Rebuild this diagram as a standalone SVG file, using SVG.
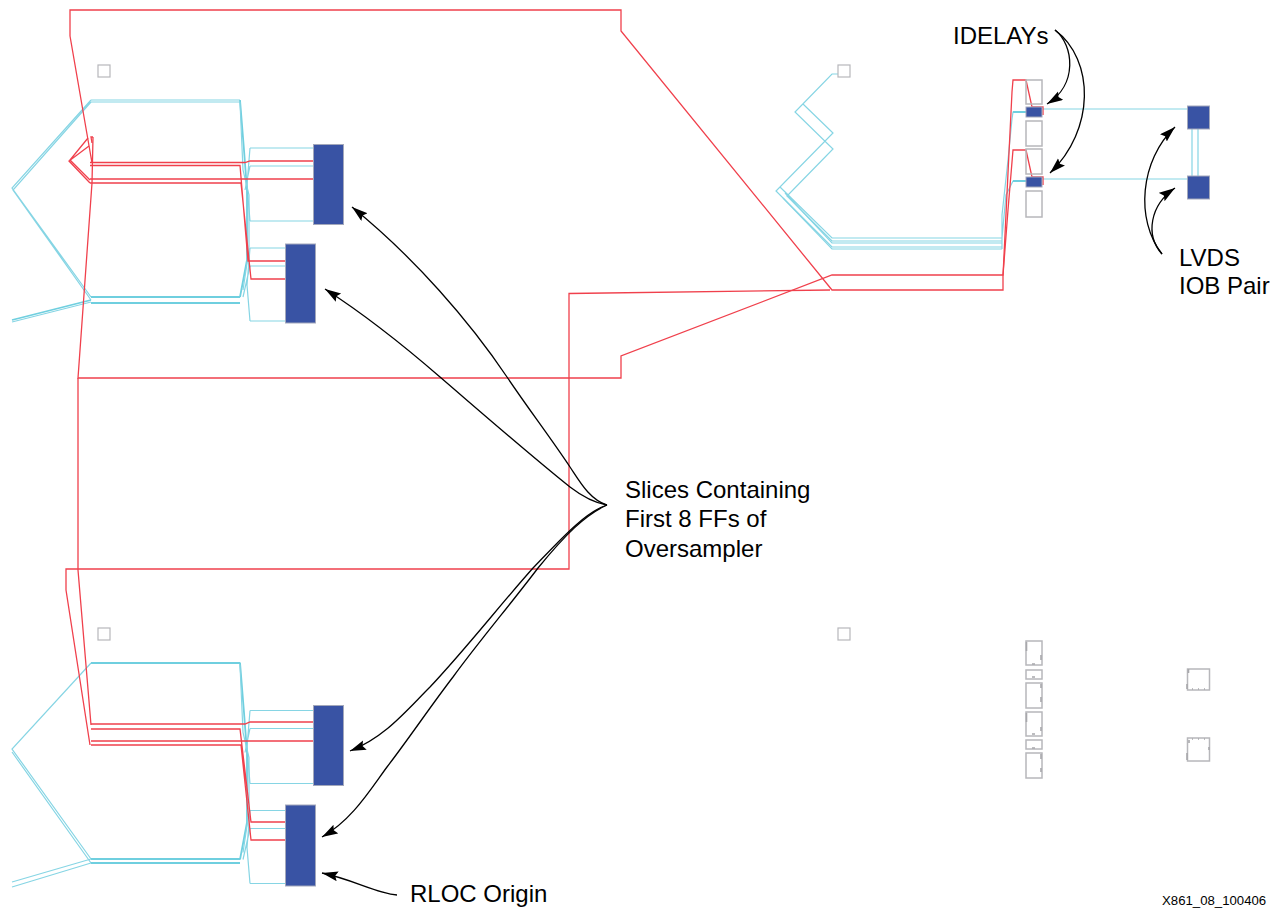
<svg xmlns="http://www.w3.org/2000/svg" width="1282" height="909" viewBox="0 0 1282 909">
<style>
.c{fill:none;stroke:#86d5e4;stroke-width:1.2}
.ct{fill:none;stroke:#6fcfdf;stroke-width:1.8}
.r{fill:none;stroke:#f0404c;stroke-width:1.3}
.a{fill:none;stroke:#000;stroke-width:1.3}
.b{fill:#3953a4;stroke:#a3a8bb;stroke-width:1}
.g{fill:#fff;stroke:#b7b7bb;stroke-width:1.2}
.gt{fill:none;stroke:#b7b7bb;stroke-width:1.5}
.k{fill:none;stroke:#a8a8ac;stroke-width:1.6}
.t{font-family:"Liberation Sans",Arial,sans-serif;font-size:24px;fill:#000}
</style>
<defs>
<marker id="ah" markerUnits="userSpaceOnUse" markerWidth="18" markerHeight="12" refX="16" refY="5" orient="auto"><path d="M0 0L16 5L0 10L2.500 5Z" fill="#000"/></marker>
<g id="cyanWires">
<path class="c" d="M250 148H313M250 166H313M250 221H313M250 148L247 185L250 221M250 166L245 190"/>
<path class="c" d="M250 248H285M250 266H285M250 321H285M250 248L247 285L250 321M250 266L243 297"/>
<path class="ct" d="M240 100L244 150L247 190L247 260L240 297"/>
<path class="c" d="M240 102L243 170L249 195L249 250L243 290"/>
</g>
</defs>
<g id="connectors">
<path class="c" d="M91 100L12 188L91 297M91 102L13 190L91 300"/>
<path class="c" d="M91 100H240M91 102H240"/>
<path class="ct" d="M91 297H240M91 303H240"/>
<path class="ct" d="M91 300L12 320"/>
<path class="c" d="M91 302L12 322"/>
<use href="#cyanWires"/>
<path class="ct" d="M91 663H240"/>
<path class="c" d="M91 663L12 749L91 859M12 752L91 863"/>
<path class="ct" d="M91 859H240M91 863H240"/>
<path class="c" d="M91 859L12 882M91 863L12 887"/>
<g transform="translate(0 562.500)"><use href="#cyanWires"/></g>
<path class="c" d="M838 74H832L795 112L833 149L787 196L832 241H1002M803 104L833 133L776 191L832 247H1002"/>
<path class="c" d="M780 187L832 238H1002M783 198L832 249H1002M785 193L832 243H1002"/>
<path class="c" d="M1002 249V215L1008 160L1012 119L1013 112H1026M1002 238L1006 195L1013 181H1026"/>
<path class="ct" d="M1013 112H1026M1013 181H1026"/>
<path class="c" d="M1043 109H1187M1043 179H1187M1192 129V176M1198 129V176"/>
<path class="r" d="M70 36V10H621V31L832 290H1003V276L1008 173L1012 92L1013 80H1026L1032 107H1043V115"/>
<path class="r" d="M70 36L92 163M93 137L92 183L78 378H621V356L832 275H1003L1008 210L1013 150H1026L1032 177H1043V185"/>
<path class="r" d="M78 378V570L91 725M66 590V569H569V293.500L830 290M66 590L90 745"/>
<path class="r" d="M88 138L70 160L90 180M93 137H91L92 143M89 146L69 161L90 183"/>
<path class="r" d="M90 162.500H245L250 161H313M90 165.500H240L248 261H285M90 179H245L250 179H313M90 183H241L251 279H285"/>
<path class="r" d="M91 724H245L250 722H313M91 729H240L251 822H285M91 741H245L250 741H313M91 745H241L251 840H285"/>
</g>
<g id="square-1"><rect class="g" x="98" y="65" width="12" height="12"/></g>
<g id="square-2"><rect class="g" x="838" y="65" width="12" height="12"/></g>
<g id="square-3"><rect class="g" x="98" y="628" width="12" height="12"/></g>
<g id="square-4"><rect class="g" x="838" y="628" width="12" height="12"/></g>
<g id="slice-1"><rect class="b" x="313.500" y="144.500" width="30" height="80"/></g>
<g id="slice-2"><rect class="b" x="285.500" y="244" width="30" height="79"/></g>
<g id="slice-3"><rect class="b" x="313.500" y="705.500" width="30" height="80"/></g>
<g id="slice-4"><rect class="b" x="285.500" y="805" width="30" height="81"/></g>
<g id="idelay-grey-top">
<rect class="gt" x="1026" y="80" width="16" height="24"/><rect class="gt" x="1026" y="121" width="16" height="25"/><rect class="gt" x="1026" y="149" width="16" height="25"/><rect class="gt" x="1026" y="191" width="16" height="26"/>
</g>
<g id="idelay-1"><rect class="b" x="1026" y="107" width="16" height="10"/></g>
<g id="idelay-2"><rect class="b" x="1026" y="177" width="16" height="10"/></g>
<g id="iob-1"><rect class="b" x="1187.500" y="106" width="22" height="23"/></g>
<g id="iob-2"><rect class="b" x="1187.500" y="176" width="22" height="23"/></g>
<g id="idelay-grey-bottom">
<rect class="gt" x="1026" y="641" width="16" height="24"/><rect class="gt" x="1026" y="670" width="16" height="9"/><rect class="gt" x="1026" y="683" width="16" height="25"/><rect class="gt" x="1026" y="712" width="16" height="24"/><rect class="gt" x="1026" y="740" width="16" height="9"/><rect class="gt" x="1026" y="753" width="16" height="25"/>
<path class="k" d="M1026.500 642V651M1041 655V660M1032 664H1035M1032 677H1035M1041 684V688M1041 697V702M1026.500 713V722M1041 727V731M1032 734H1035M1032 748H1035M1041 754V759M1041 768V772"/>
</g>
<g id="iob-grey-1"><rect class="gt" x="1187.500" y="669" width="22" height="21"/><path class="k" d="M1188.500 669V673M1187 684V689M1192 689H1193M1198 689H1199M1204 689H1205"/></g>
<g id="iob-grey-2"><rect class="gt" x="1187.500" y="738" width="22" height="23"/><path class="k" d="M1189 740V743M1187 753V760M1192 739H1193M1198 739H1199M1204 739H1205M1209 747V750"/></g>
<g id="annotation-arrows">
<path class="a" marker-end="url(#ah)" d="M1055 30C1074 45 1078 85 1047 104"/>
<path class="a" marker-end="url(#ah)" d="M1055 30C1095 60 1095 130 1050 173"/>
<path class="a" marker-end="url(#ah)" d="M1162 254C1135 220 1140 160 1175 127"/>
<path class="a" marker-end="url(#ah)" d="M1162 254C1145 235 1150 205 1175 188"/>
<path class="a" marker-end="url(#ah)" d="M607 505C590 500 580 482 570 467C550 437 530 411 507 377C470 322 415 258 352 207"/>
<path class="a" marker-end="url(#ah)" d="M607 505C595 503 583 497 570 487C530 455 490 420 440 377C410 351 370 318 325 289"/>
<path class="a" marker-end="url(#ah)" d="M607 505C585 512 560 540 533 568C500 605 465 650 430 687C405 712 385 737 350 751"/>
<path class="a" marker-end="url(#ah)" d="M607 505C585 515 565 535 538 568C510 605 480 640 453 677C430 707 410 737 387 767C370 790 352 820 322 837"/>
<path class="a" marker-end="url(#ah)" d="M397 895C375 893 355 880 322 873"/>
</g>
<g id="labels">
<text class="t" x="953" y="44">IDELAYs</text>
<text class="t" x="1179" y="266">LVDS</text>
<text class="t" x="1179" y="294">IOB Pair</text>
<text class="t" x="625" y="498">Slices Containing</text>
<text class="t" x="625" y="527">First 8 FFs of</text>
<text class="t" x="625" y="557">Oversampler</text>
<text class="t" x="410" y="902">RLOC Origin</text>
<text x="1162" y="905" style="font-family:'Liberation Sans',Arial,sans-serif;font-size:13.200px">X861_08_100406</text>
</g>
</svg>
